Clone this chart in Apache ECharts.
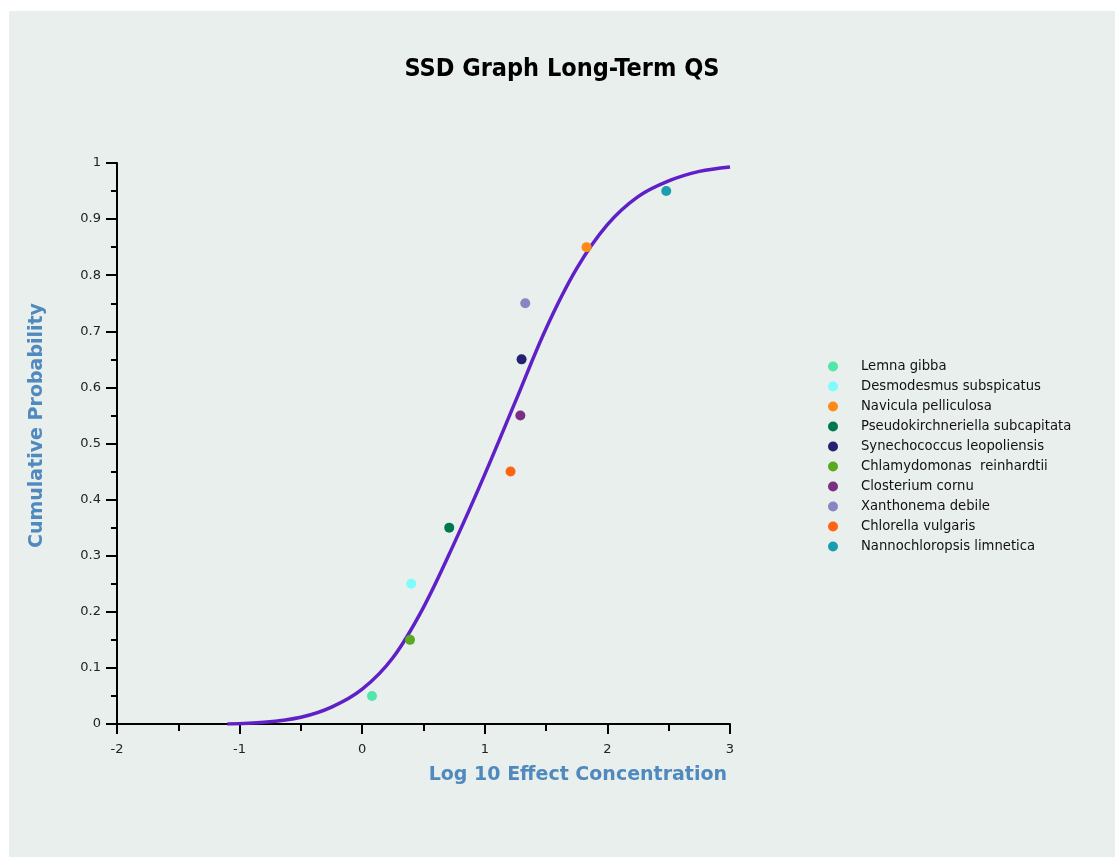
<!DOCTYPE html>
<html>
<head>
<meta charset="utf-8">
<title>SSD Graph Long-Term QS</title>
<script src="https://cdn.jsdelivr.net/npm/echarts@6/dist/echarts.min.js"></script>
<style>
  html, body { margin: 0; padding: 0; background: #ffffff; }
  #chart {
    position: absolute;
    left: 9px;
    top: 11px;
    width: 1106px;
    height: 846px;
    background: #e9efed;
  }
</style>
</head>
<body>
<div id="chart"></div>
<script>
// species (legend order), their points and colours
const species = [
  "Lemna gibba",
  "Desmodesmus subspicatus",
  "Navicula pelliculosa",
  "Pseudokirchneriella subcapitata",
  "Synechococcus leopoliensis",
  "Chlamydomonas  reinhardtii",
  "Closterium cornu",
  "Xanthonema debile",
  "Chlorella vulgaris",
  "Nannochloropsis limnetica",
];
const logConc = [0.08, 0.40, 1.83, 0.71, 1.30, 0.39, 1.29, 1.33, 1.21, 2.48];
const cumProb = [0.05, 0.25, 0.85, 0.35, 0.65, 0.15, 0.55, 0.75, 0.45, 0.95];
const colors = [
  "#52e6aa", "#80fbfc", "#ff8a16", "#00784f", "#242170",
  "#5aa91f", "#7a2f82", "#8985c3", "#ff6412", "#1b9db0",
];

// fitted SSD curve
const curveX = [-1.1, -0.8, -0.5, -0.25, 0, 0.25, 0.5, 0.75, 1.0, 1.25, 1.5, 1.75, 2.0, 2.25, 2.5, 2.75, 3.0];
const curveY = [0.0, 0.003, 0.012, 0.03, 0.062, 0.118, 0.208, 0.322, 0.445, 0.575, 0.705, 0.812, 0.89, 0.94, 0.968, 0.985, 0.993];

const axisBlue = "#4f89bd";
const chart = echarts.init(document.getElementById("chart"));

const scatterSeries = species.map((name, i) => ({
  name: name,
  type: "scatter",
  data: [[logConc[i], cumProb[i]]],
  symbol: "circle",
  symbolSize: 10,
  itemStyle: { color: colors[i], opacity: 1 },
  z: 5,
}));

const option = {
  animation: false,
  title: {
    text: "SSD Graph Long-Term QS",
    left: 548,
    top: 41,
    textAlign: "center",
    textStyle: {
      fontFamily: "DejaVu Sans Condensed",
      fontWeight: "bold",
      fontSize: 25,
      color: "#000",
    },
  },
  legend: {
    data: species,
    orient: "vertical",
    left: 814,
    top: 344,
    itemWidth: 46,
    itemHeight: 10,
    itemGap: 7,
    icon: "circle",
    itemStyle: { opacity: 1 },
    textStyle: {
      fontFamily: "DejaVu Sans",
      fontSize: 13.2,
      color: "#111",
    },
  },
  grid: { left: 108, top: 152, right: 385, bottom: 133, outerBoundsMode: "none" },
  xAxis: {
    type: "value",
    min: -2,
    max: 3,
    interval: 1,
    name: "Log 10 Effect Concentration",
    nameLocation: "end",
    nameGap: -3,
    nameTextStyle: {
      align: "right",
      verticalAlign: "top",
      padding: [42, 0, 0, 0],
      fontFamily: "DejaVu Sans",
      fontWeight: "bold",
      fontSize: 19,
      color: axisBlue,
    },
    axisLine: { lineStyle: { color: "#000", width: 2 } },
    axisTick: { length: 10, lineStyle: { color: "#000", width: 2 } },
    minorTick: { show: true, splitNumber: 2, length: 7, lineStyle: { color: "#000", width: 2 } },
    splitLine: { show: false },
    axisLabel: { margin: 19, fontFamily: "DejaVu Sans", fontSize: 13, color: "#222" },
  },
  yAxis: {
    type: "value",
    min: 0,
    max: 1,
    interval: 0.1,
    name: "Cumulative Probability",
    nameLocation: "middle",
    nameGap: 70,
    nameTextStyle: {
      fontFamily: "DejaVu Sans",
      fontWeight: "bold",
      fontSize: 19,
      color: axisBlue,
      padding: [0, 0, 0, 36],
    },
    axisLine: { show: true, onZero: false, lineStyle: { color: "#000", width: 2 } },
    axisTick: { show: true, length: 11, lineStyle: { color: "#000", width: 2 } },
    minorTick: { show: true, splitNumber: 2, length: 6, lineStyle: { color: "#000", width: 2 } },
    splitLine: { show: false },
    axisLabel: { margin: 16, fontFamily: "DejaVu Sans", fontSize: 13, color: "#222" },
  },
  series: [
    {
      name: "fit",
      type: "line",
      data: curveX.map((x, i) => [x, curveY[i]]),
      smooth: 0.35,
      showSymbol: false,
      lineStyle: { color: "#6020c8", width: 3.5 },
      z: 2,
    },
    ...scatterSeries,
  ],
};

chart.setOption(option);
</script>
</body>
</html>
